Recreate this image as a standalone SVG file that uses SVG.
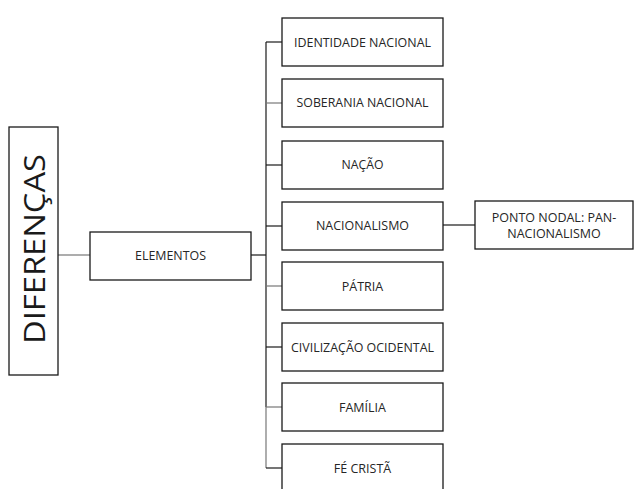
<svg xmlns="http://www.w3.org/2000/svg" width="634" height="489" viewBox="0 0 634 489">
<style>
.box{fill:#fff;stroke:#1a1a1a;stroke-width:1.3}
.t{font-family:"Open Sans","Liberation Sans",sans-serif;font-size:12.5px;fill:#262626;text-anchor:middle;dominant-baseline:central}
.big{font-family:"Open Sans","Liberation Sans",sans-serif;font-size:30px;fill:#1a1a1a;text-anchor:middle;dominant-baseline:central}
.c{fill:none;stroke:#1a1a1a;stroke-width:1.2}
.g{fill:none;stroke:#777;stroke-width:1.2}
</style>
<rect width="634" height="489" fill="#fff"/>
<g id="connectors">
<line class="g" x1="58" y1="255" x2="90" y2="255"/>
<line class="c" x1="251" y1="255" x2="266" y2="255" stroke-width="2"/>
<line class="c" x1="266" y1="42" x2="266" y2="407"/>
<line class="g" x1="266" y1="407" x2="266" y2="468"/>
<line class="c" x1="266" y1="42" x2="282" y2="42"/>
<line class="g" x1="266" y1="103" x2="282" y2="103"/>
<line class="c" x1="266" y1="165" x2="282" y2="165"/>
<line class="c" x1="266" y1="226" x2="282" y2="226"/>
<line class="g" x1="266" y1="286" x2="282" y2="286"/>
<line class="c" x1="266" y1="347" x2="282" y2="347"/>
<line class="g" x1="266" y1="407" x2="282" y2="407"/>
<line class="c" x1="266" y1="468" x2="282" y2="468"/>
<line class="c" x1="443" y1="225" x2="475" y2="225"/>
</g>
<g id="diferencas">
<rect class="box" x="9" y="127" width="49" height="248"/>
<text class="big" transform="translate(33.5,249) rotate(-90)" textLength="190" lengthAdjust="spacingAndGlyphs">DIFERENÇAS</text>
</g>
<g id="elementos">
<rect class="box" x="90" y="232" width="161" height="48"/>
<text class="t" x="170.5" y="255" textLength="71" lengthAdjust="spacingAndGlyphs">ELEMENTOS</text>
</g>
<g id="identidade">
<rect class="box" x="282" y="18" width="161" height="48"/>
<text class="t" x="362.5" y="42" textLength="137" lengthAdjust="spacingAndGlyphs">IDENTIDADE NACIONAL</text>
</g>
<g id="soberania">
<rect class="box" x="282" y="79" width="161" height="48"/>
<text class="t" x="362.5" y="102" textLength="132" lengthAdjust="spacingAndGlyphs">SOBERANIA NACIONAL</text>
</g>
<g id="nacao">
<rect class="box" x="282" y="141" width="161" height="48"/>
<text class="t" x="362.5" y="164" textLength="42" lengthAdjust="spacingAndGlyphs">NAÇÃO</text>
</g>
<g id="nacionalismo">
<rect class="box" x="282" y="202" width="161" height="48"/>
<text class="t" x="362.5" y="225" textLength="93" lengthAdjust="spacingAndGlyphs">NACIONALISMO</text>
</g>
<g id="patria">
<rect class="box" x="282" y="262" width="161" height="48"/>
<text class="t" x="362.5" y="286">PÁTRIA</text>
</g>
<g id="civilizacao">
<rect class="box" x="282" y="323" width="161" height="48"/>
<text class="t" x="362.5" y="347" textLength="143" lengthAdjust="spacingAndGlyphs">CIVILIZAÇÃO OCIDENTAL</text>
</g>
<g id="familia">
<rect class="box" x="282" y="383" width="161" height="48"/>
<text class="t" x="362.5" y="407">FAMÍLIA</text>
</g>
<g id="fe">
<rect class="box" x="282" y="444" width="161" height="48"/>
<text class="t" x="362.5" y="468">FÉ CRISTÃ</text>
</g>
<g id="ponto">
<rect class="box" x="475" y="201" width="158" height="48"/>
<text class="t" x="554" y="217">PONTO NODAL: PAN-</text>
<text class="t" x="554" y="233">NACIONALISMO</text>
</g>
</svg>
